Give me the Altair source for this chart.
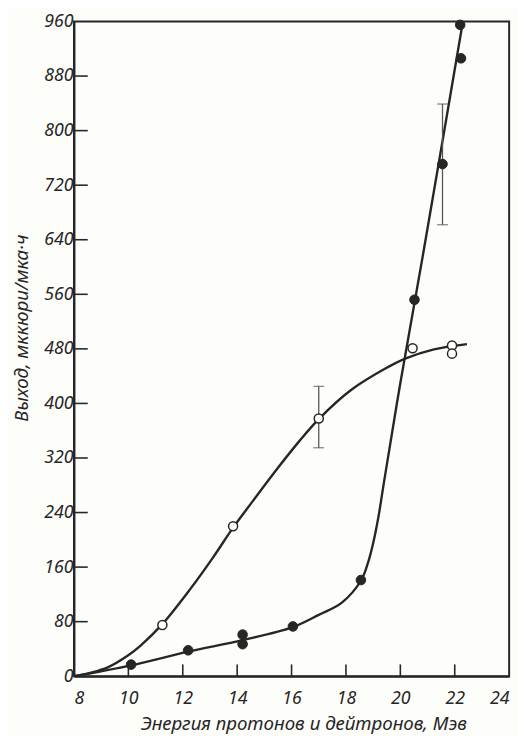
import altair as alt
import pandas as pd

# ---- data ----
proton_x = [11.25, 13.85, 17.0, 20.45, 21.9, 21.9]
proton_y = [75, 220, 378, 481, 485, 473]

deut_x = [10.1, 12.2, 14.2, 14.2, 16.05, 18.55, 20.52, 21.55, 22.23, 22.2]
deut_y = [17, 38, 61, 47, 73, 141, 552, 751, 906, 955]

# smooth hand-drawn curves
proton_curve_x = [8.0, 8.6, 9.24, 9.97, 10.45, 11.24, 12.26, 13.11, 13.87, 14.56, 15.43,
                  16.27, 17.0, 18.2, 19.4, 20.2, 21.2, 22.45]
proton_curve_y = [0, 5, 13, 30, 45, 76, 127, 174, 219, 256, 302,
                  344, 377, 420, 450, 466, 479, 487]

deut_curve_x = [8.0, 10.1, 12.2, 14.2, 16.05, 17.0, 17.85, 18.55, 18.8, 19.0, 19.2, 19.4, 20.0, 20.85, 22.3]
deut_curve_y = [0, 16, 36, 53, 72, 90, 108, 140, 165, 195, 235, 285, 430, 622, 960]

err_x = [17.0, 21.55]
err_lo = [335, 662]
err_hi = [425, 839]

x_ticks = [8, 10, 12, 14, 16, 18, 20, 22, 24]
y_ticks = [0, 80, 160, 240, 320, 400, 480, 560, 640, 720, 800, 880, 960]
x_inner_ticks = [10, 12, 14, 16, 18, 20, 22]
y_inner_ticks = [80, 160, 240, 320, 400, 480, 560, 640, 720, 800, 880]

INK = "#262626"
FONT = "Noto Sans"
W, H = 442, 665

p_df = pd.DataFrame({"x": proton_x, "y": proton_y})
d_df = pd.DataFrame({"x": deut_x, "y": deut_y})
pc_df = pd.DataFrame({"x": proton_curve_x, "y": proton_curve_y})
dc_df = pd.DataFrame({"x": deut_curve_x, "y": deut_curve_y})
e_df = pd.DataFrame({"x": err_x, "lo": err_lo, "hi": err_hi})
xt_df = pd.DataFrame({"x": x_inner_ticks})
yt_df = pd.DataFrame({"y": y_inner_ticks})

xs = alt.Scale(domain=[8, 24], nice=False, zero=False)
ys = alt.Scale(domain=[0, 960], nice=False)

x_axis = alt.Axis(
    values=x_ticks, format="d", grid=False, ticks=False, tickSize=0,
    domainColor=INK, domainWidth=2, labelPadding=14,
    labelFont=FONT, labelFontStyle="italic", labelFontSize=18, labelColor=INK,
    title="Энергия  протонов  и  дейтронов,  Мэв",
    titleFont=FONT, titleFontStyle="italic", titleFontWeight="normal",
    titleFontSize=19, titleColor=INK,
    titleX=233, titleY=54, titleAlign="center", titleBaseline="alphabetic",
)
y_axis = alt.Axis(
    values=y_ticks, format="d", grid=False, ticks=False, tickSize=0,
    domainColor=INK, domainWidth=2, labelPadding=1,
    labelFont=FONT, labelFontStyle="italic", labelFontSize=18, labelColor=INK,
    title="Выход, мккюри/мка·ч",
    titleFont=FONT, titleFontStyle="italic", titleFontWeight="normal",
    titleFontSize=19, titleColor=INK,
    titleX=-47, titleY=311, titleAlign="center", titleBaseline="alphabetic",
    titleAngle=270,
)

X = alt.X("x:Q", scale=xs, axis=x_axis)
Y = alt.Y("y:Q", scale=ys, axis=y_axis)

proton_line = alt.Chart(pc_df).mark_line(
    interpolate="catmull-rom", color=INK, strokeWidth=2.4, clip=True
).encode(x=X, y=Y)

deut_line = alt.Chart(dc_df).mark_line(
    interpolate="catmull-rom", color=INK, strokeWidth=2.4, clip=True
).encode(x=alt.X("x:Q", scale=xs), y=alt.Y("y:Q", scale=ys))

err_rule = alt.Chart(e_df).mark_rule(color="#555555", strokeWidth=1.3).encode(
    x=alt.X("x:Q", scale=xs), y=alt.Y("lo:Q", scale=ys), y2="hi:Q"
)
err_cap_lo = alt.Chart(e_df).mark_tick(
    orient="horizontal", color="#555555", thickness=1.3, size=11
).encode(x=alt.X("x:Q", scale=xs), y=alt.Y("lo:Q", scale=ys))
err_cap_hi = alt.Chart(e_df).mark_tick(
    orient="horizontal", color="#555555", thickness=1.3, size=11
).encode(x=alt.X("x:Q", scale=xs), y=alt.Y("hi:Q", scale=ys))

proton_pts = alt.Chart(p_df).mark_point(
    shape="circle", filled=True, fill="white", stroke=INK, strokeWidth=1.5,
    size=85, opacity=1
).encode(x=alt.X("x:Q", scale=xs), y=alt.Y("y:Q", scale=ys))

deut_pts = alt.Chart(d_df).mark_point(
    shape="circle", filled=True, fill=INK, stroke=INK, strokeWidth=1,
    size=95, opacity=1
).encode(x=alt.X("x:Q", scale=xs), y=alt.Y("y:Q", scale=ys))

x_in = alt.Chart(xt_df).mark_rule(color=INK, strokeWidth=1.6).encode(
    x=alt.X("x:Q", scale=xs), y=alt.value(H), y2=alt.value(H - 12)
)
y_in = alt.Chart(yt_df).mark_rule(color=INK, strokeWidth=1.6).encode(
    y=alt.Y("y:Q", scale=ys), x=alt.value(0), x2=alt.value(14)
)

chart = alt.layer(
    proton_line, deut_line, err_rule, err_cap_lo, err_cap_hi,
    proton_pts, deut_pts, x_in, y_in
).properties(
    width=W, height=H,
    autosize=alt.AutoSizeParams(type="none"),
    padding={"left": 67, "top": 8, "right": 9, "bottom": 55},
    background="#fdfdfa",
).configure_view(
    stroke=INK, strokeWidth=2
)

chart.save("out.html", embed_options={"renderer": "svg", "actions": False})
